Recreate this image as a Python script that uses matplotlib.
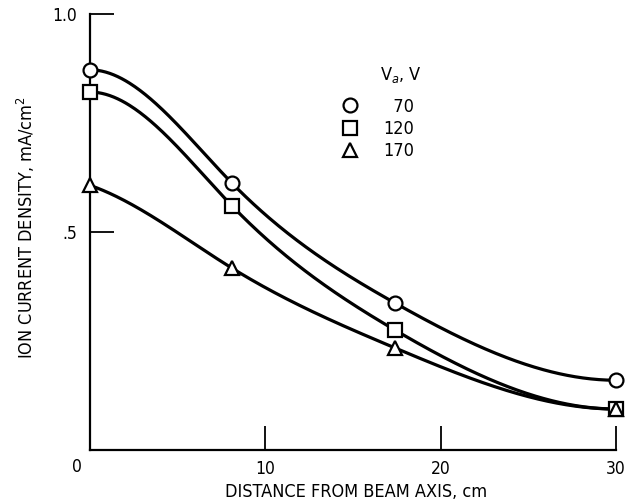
import numpy as np
import matplotlib
matplotlib.use("Agg")
import matplotlib.pyplot as plt
from matplotlib.lines import Line2D

plt.rcParams['font.family'] = ['DejaVu Sans']
plt.rcParams['font.stretch'] = 'condensed'

# Data
x_pts = [0.0, 8.1, 17.4, 30.0]
series_labels = ["70", "120", "170"]
series_markers = ["o", "s", "^"]
y_70 = [0.872, 0.612, 0.337, 0.160]
y_120 = [0.821, 0.560, 0.275, 0.094]
y_170 = [0.607, 0.417, 0.234, 0.094]
x_ticks = [10, 20, 30]
y_ticks = [0.5, 1.0]
y_tick_labels = [".5", "1.0"]

# end slopes of the hand-drawn smooth curves (style of the fitted line)
start_slopes = [0.0, 0.0, -0.014]
end_slopes = [0.0, 0.0, 0.0]


def clamped_spline(x, y, d0, dn, xs):
    x = np.asarray(x, float)
    y = np.asarray(y, float)
    n = len(x)
    h = np.diff(x)
    A = np.zeros((n, n))
    b = np.zeros(n)
    A[0, 0] = 2 * h[0]
    A[0, 1] = h[0]
    b[0] = 3 * ((y[1] - y[0]) / h[0] - d0)
    A[-1, -2] = h[-1]
    A[-1, -1] = 2 * h[-1]
    b[-1] = 3 * (dn - (y[-1] - y[-2]) / h[-1])
    for i in range(1, n - 1):
        A[i, i - 1] = h[i - 1]
        A[i, i] = 2 * (h[i - 1] + h[i])
        A[i, i + 1] = h[i]
        b[i] = 3 * ((y[i + 1] - y[i]) / h[i] - (y[i] - y[i - 1]) / h[i - 1])
    c = np.linalg.solve(A, b)
    bb = (y[1:] - y[:-1]) / h - h * (2 * c[:-1] + c[1:]) / 3
    d = (c[1:] - c[:-1]) / (3 * h)
    idx = np.clip(np.searchsorted(x, xs) - 1, 0, n - 2)
    t = xs - x[idx]
    return y[idx] + bb[idx] * t + c[idx] * t ** 2 + d[idx] * t ** 3


fig = plt.figure(figsize=(6.25, 5.04), dpi=100)
ax = fig.add_axes([90 / 625, 54 / 504, 526 / 625, 436 / 504])

xs = np.linspace(x_pts[0], x_pts[-1], 400)
for ys, mk, s0, s1 in zip([y_70, y_120, y_170], series_markers,
                          start_slopes, end_slopes):
    ax.plot(xs, clamped_spline(x_pts, ys, s0, s1, xs), color='black',
            lw=2.3, solid_capstyle='round', clip_on=False, zorder=2)
    ax.plot(x_pts, ys, linestyle='none', marker=mk, markersize=10,
            markerfacecolor='white', markeredgecolor='black',
            markeredgewidth=1.6, clip_on=False, zorder=3)

ax.set_xlim(0, 30)
ax.set_ylim(0, 1.0)
ax.spines['top'].set_visible(False)
ax.spines['right'].set_visible(False)
for s in ['left', 'bottom']:
    ax.spines[s].set_linewidth(1.6)

ax.set_xticks(x_ticks)
ax.set_xticklabels([str(t) for t in x_ticks])
ax.set_yticks(y_ticks)
ax.set_yticklabels(y_tick_labels)
ax.tick_params(axis='both', direction='in', length=17, width=1.3,
               labelsize=12.5, pad=7)
ax.tick_params(axis='y', pad=9)
ax.annotate('0', xy=(0, 0), xytext=(-13, -17), textcoords='offset pixels',
            ha='center', va='center', fontsize=12.5)

ax.set_xlabel('DISTANCE FROM BEAM AXIS, cm', fontsize=13)
ax.xaxis.set_label_coords((356 - 90) / 526, -(492 - 450) / 436)
ax.set_ylabel('ION CURRENT DENSITY, mA/cm$^2$', fontsize=13)
ax.yaxis.set_label_coords(-(90 - 26) / 526, (450 - 228) / 436)
ax.xaxis.label.set_va('center')
ax.yaxis.label.set_va('center')

ax.text((380 - 90) / 526, (450 - 75) / 436, 'V$_a$, V', transform=ax.transAxes,
        ha='left', va='center', fontsize=13)

handles = [Line2D([], [], linestyle='none', marker=m, markersize=10,
                  markerfacecolor='white', markeredgecolor='black',
                  markeredgewidth=1.6) for m in series_markers]
labels = ['\u2007' * (3 - len(l)) + l for l in series_labels]
leg = ax.legend(handles, labels, loc='upper left',
                bbox_to_anchor=(0.478, 0.808), frameon=False, fontsize=13,
                handletextpad=1.3, labelspacing=0.24,
                borderpad=0, borderaxespad=0, handlelength=1.0)

fig.savefig('out.png', dpi=100)
